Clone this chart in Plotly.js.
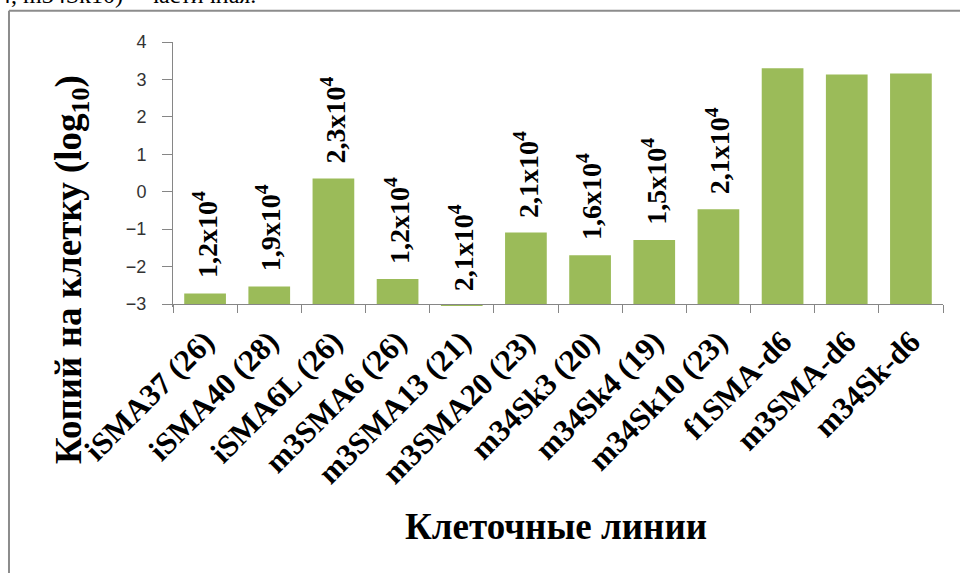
<!DOCTYPE html>
<html>
<head>
<meta charset="utf-8">
<script src="https://cdn.plot.ly/plotly-3.0.1.min.js"></script>
<style>html,body{margin:0;padding:0;background:#fff;overflow:hidden;}#chart{width:960px;height:573px;}</style>
</head>
<body>
<div id="chart"></div>
<script>
const categories = ["iSMA37 (26)","iSMA40 (28)","iSMA6L (26)","m3SMA6 (26)","m3SMA13 (21)","m3SMA20 (23)","m34Sk3 (20)","m34Sk4 (19)","m34Sk10 (23)","f1SMA-d6","m3SMA-d6","m34Sk-d6"];
const values = [-2.72,-2.53,0.35,-2.33,-3.05,-1.09,-1.70,-1.29,-0.47,3.30,3.13,3.16];
const labels = ["1,2x10<sup>4</sup>","1,9x10<sup>4</sup>","2,3x10<sup>4</sup>","1,2x10<sup>4</sup>","2,1x10<sup>4</sup>","2,1x10<sup>4</sup>","1,6x10<sup>4</sup>","1,5x10<sup>4</sup>","2,1x10<sup>4</sup>","","",""];
const BASE = -3;
const YMIN = -3.08, YMAX = 4;

const serif = "Liberation Serif";

const trace = {
  type: "bar",
  x: categories,
  y: values.map(v => v - BASE),
  base: BASE,
  marker: {color: "#9bbb59"},
  hoverinfo: "skip"
};

const annotations = [];
categories.forEach((c, i) => {
  if (!labels[i]) return;
  annotations.push({
    x: c, y: values[i], xref: "x", yref: "y",
    text: labels[i], showarrow: false, textangle: -90,
    xanchor: "center", yanchor: "bottom", yshift: 13,
    font: {family: serif, size: 28, color: "#000", weight: "bold"}
  });
});
annotations.push({
  xref: "paper", yref: "paper", x: -0.131, y: 0.14,
  text: "Копий на клетку (log<sub>10</sub>)", showarrow: false, textangle: -90,
  xanchor: "center", yanchor: "middle",
  font: {family: serif, size: 37, color: "#000", weight: "bold"}
});
annotations.push({
  xref: "paper", yref: "paper", x: 0.498, y: -0.83,
  text: "Клеточные линии", showarrow: false,
  xanchor: "center", yanchor: "middle",
  font: {family: serif, size: 37, color: "#000", weight: "bold"}
});
annotations.push({
  xref: "paper", yref: "paper", x: -0.229, y: 1.178,
  text: "4, m34Sk10) – частичная.", showarrow: false,
  xanchor: "left", yanchor: "middle",
  font: {family: serif, size: 24, color: "#000"}
});

const layout = {
  width: 960, height: 573,
  font: {family: serif, color: "#000"},
  margin: {l: 173, r: 17, t: 42, b: 266},
  paper_bgcolor: "#fff", plot_bgcolor: "#fff",
  showlegend: false,
  bargap: 0.35,
  xaxis: {
    type: "category",
    anchor: "free", position: (BASE - YMIN) / (YMAX - YMIN),
    showline: true, linecolor: "#868686", linewidth: 1,
    ticks: "outside", tickson: "boundaries", ticklen: 8, tickcolor: "#868686",
    tickangle: -45, ticklabelstandoff: 6,
    tickfont: {family: serif, size: 31, color: "#000", weight: "bold"},
    showgrid: false, zeroline: false, automargin: false
  },
  yaxis: {
    range: [YMIN, YMAX], tickvals: [-3,-2,-1,0,1,2,3,4],
    showline: true, linecolor: "#868686", linewidth: 1,
    ticks: "outside", ticklen: 10, tickcolor: "#868686",
    ticklabelstandoff: 12,
    tickfont: {family: "Liberation Sans", size: 18, color: "#333"},
    showgrid: false, zeroline: false, automargin: false
  },
  shapes: [
    {type: "line", xref: "paper", yref: "paper", x0: -0.213, x1: -0.213, y0: 1.118, y1: -1.5,
     line: {color: "#8c8c8c", width: 2}},
    {type: "line", xref: "paper", yref: "paper", x0: -0.213, x1: 1.2, y0: 1.118, y1: 1.118,
     line: {color: "#8c8c8c", width: 2}}
  ],
  annotations: annotations
};

Plotly.newPlot("chart", [trace], layout, {displayModeBar: false, staticPlot: true});
</script>
</body>
</html>
